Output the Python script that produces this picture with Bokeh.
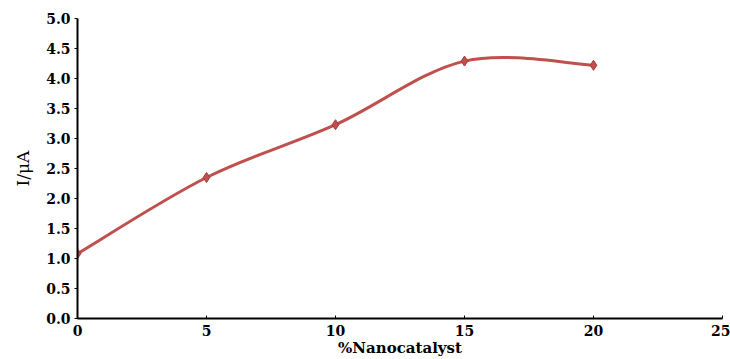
from bokeh.plotting import figure
from bokeh.models import Range1d, FixedTicker, NumeralTickFormatter
from bokeh.embed import file_html
from bokeh.resources import INLINE

x_vals = [0, 5, 10, 15, 20]
y_vals = [1.08, 2.35, 3.23, 4.29, 4.22]
x_ticks = [0, 5, 10, 15, 20, 25]
y_ticks = [0.0, 0.5, 1.0, 1.5, 2.0, 2.5, 3.0, 3.5, 4.0, 4.5, 5.0]

color = "#C0504D"

p = figure(width=730, height=359, output_backend="svg", toolbar_location=None,
           x_range=Range1d(0, 25), y_range=Range1d(0, 5),
           min_border_left=77, min_border_right=8, min_border_top=18, min_border_bottom=41)
p.outline_line_color = None
p.xgrid.grid_line_color = None
p.ygrid.grid_line_color = None

# Smoothed (Catmull-Rom style) curve through the data points, drawn as cubic Beziers
n = len(x_vals)
x0s, y0s, x1s, y1s, cx0s, cy0s, cx1s, cy1s = [], [], [], [], [], [], [], []
for i in range(n - 1):
    pm = i - 1 if i > 0 else i
    pp = i + 2 if i + 2 < n else i + 1
    x0s.append(x_vals[i]); y0s.append(y_vals[i])
    x1s.append(x_vals[i + 1]); y1s.append(y_vals[i + 1])
    cx0s.append(x_vals[i] + (x_vals[i + 1] - x_vals[pm]) / 6)
    cy0s.append(y_vals[i] + (y_vals[i + 1] - y_vals[pm]) / 6)
    cx1s.append(x_vals[i + 1] - (x_vals[pp] - x_vals[i]) / 6)
    cy1s.append(y_vals[i + 1] - (y_vals[pp] - y_vals[i]) / 6)
p.bezier(x0=x0s, y0=y0s, x1=x1s, y1=y1s, cx0=cx0s, cy0=cy0s, cx1=cx1s, cy1=cy1s,
         line_color=color, line_width=3)
p.scatter(x_vals, y_vals, marker="diamond", size=10, fill_color=color, line_color="#A83A36")

for ax in (p.xaxis, p.yaxis):
    ax.axis_line_width = 2
    ax.axis_line_color = "black"
    ax.major_tick_line_color = "black"
    ax.minor_tick_line_color = None
    ax.major_label_text_font = "DejaVu Serif"
    ax.major_label_text_font_style = "bold"
    ax.major_label_text_font_size = "14px"
    ax.major_label_text_color = "black"
    ax.axis_label_text_color = "black"

p.xaxis.ticker = FixedTicker(ticks=x_ticks)
p.yaxis.ticker = FixedTicker(ticks=y_ticks)
p.yaxis.formatter = NumeralTickFormatter(format="0.0")
p.xaxis.major_tick_in = 3
p.xaxis.major_tick_out = 0
p.yaxis.major_tick_in = 0
p.yaxis.major_tick_out = 3
p.xaxis.major_label_standoff = 6
p.yaxis.major_label_standoff = 4

p.xaxis.axis_label = "%Nanocatalyst"
p.xaxis.axis_label_text_font = "DejaVu Serif"
p.xaxis.axis_label_text_font_style = "bold"
p.xaxis.axis_label_text_font_size = "15px"
p.xaxis.axis_label_standoff = 0

p.yaxis.axis_label = "I/μA"
p.yaxis.axis_label_text_font = "DejaVu Serif"
p.yaxis.axis_label_text_font_style = "normal"
p.yaxis.axis_label_text_font_size = "17px"
p.yaxis.axis_label_standoff = 10

open("out.html", "w").write(file_html(p, INLINE))
